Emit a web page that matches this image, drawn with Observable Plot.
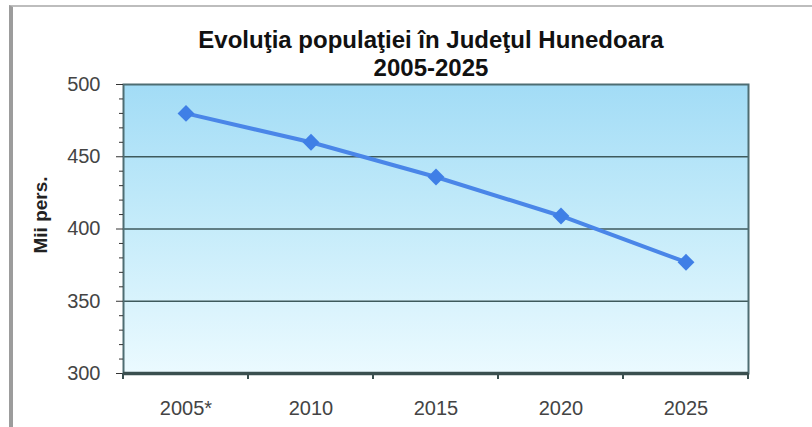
<!DOCTYPE html>
<html><head><meta charset="utf-8">
<script src="https://cdn.jsdelivr.net/npm/d3@7"></script>
<script src="https://cdn.jsdelivr.net/npm/@observablehq/plot@0.6"></script>
<style>
body{margin:0;background:#fff;}
#wrap{position:relative;width:812px;height:427px;overflow:hidden;background:#fff;}
#chart{position:absolute;left:0;top:0;}
#border{position:absolute;left:9px;top:5px;width:900px;height:500px;border-left:4px solid #9c9c9c;border-top:2px solid #bdbdbd;pointer-events:none;z-index:2;}
</style></head><body>
<div id="wrap"><div id="chart"></div><div id="border"></div></div>
<script>
const years = ["2005*", "2010", "2015", "2020", "2025"];
const population = [480, 460, 436, 409, 377];
const yTicks = [300, 350, 400, 450, 500];
const yMinorTicks = [310, 320, 330, 340, 360, 370, 380, 390, 410, 420, 430, 440, 460, 470, 480, 490];
const gridValues = [350, 400, 450];
const titleLines = ["Evoluţia populaţiei în Judeţul Hunedoara", "2005-2025"];
const yLabel = "Mii pers.";

const data = years.map((y, i) => ({year: y, value: population[i]}));
const NS = "http://www.w3.org/2000/svg";

const gradientBg = (index, scales, values, dims) => {
  const g = document.createElementNS(NS, "g");
  const w = dims.width - dims.marginLeft - dims.marginRight;
  const h = dims.height - dims.marginTop - dims.marginBottom;
  g.innerHTML = `<defs><linearGradient id="bgGrad" x1="0" y1="0" x2="0" y2="1">
    <stop offset="0" stop-color="#a2dcf6"/><stop offset="0.5" stop-color="#c6ecfa"/><stop offset="1" stop-color="#ebfaff"/></linearGradient></defs>
    <rect x="${dims.marginLeft}" y="${dims.marginTop}" width="${w}" height="${h}" fill="url(#bgGrad)"/>`;
  return g;
};

const xBoundaryTicks = (index, scales, values, dims) => {
  const g = document.createElementNS(NS, "g");
  const x = scales.x;
  const bw = typeof x.bandwidth === "function" ? x.bandwidth() : (x(years[1]) - x(years[0]));
  const y0 = dims.height - dims.marginBottom;
  const pos = [x(years[0])].concat(years.map(c => x(c) + bw));
  g.innerHTML = pos.map(p => `<line x1="${p}" x2="${p}" y1="${y0}" y2="${y0 + 6}" stroke="#3a4f4f" stroke-width="2"/>`).join("");
  return g;
};

const chart = Plot.plot({
  width: 812,
  height: 427,
  marginLeft: 123,
  marginRight: 64,
  marginTop: 84,
  marginBottom: 54,
  style: {fontFamily: "'Liberation Sans', Arial, sans-serif", fontSize: "20px", background: "transparent", overflow: "visible"},
  x: {type: "band", domain: years, padding: 0, label: null},
  y: {domain: [300, 500], label: null},
  marks: [
    gradientBg,
    Plot.ruleY(gridValues, {stroke: "#3e5a5c", strokeWidth: 1.6}),
    Plot.frame({stroke: "#4e6d72", strokeWidth: 2}),
    Plot.ruleY([300], {stroke: "#3a4f4f", strokeWidth: 3.5}),
    Plot.axisY(yTicks, {tickSize: 7, tickPadding: 16, stroke: "#333", fill: "#444", fontSize: 20, label: null}),
    Plot.axisY(yMinorTicks, {tickSize: 4, text: null, stroke: "#333", label: null}),
    Plot.axisX({tickSize: 0, tickPadding: 27, fill: "#444", fontSize: 20, label: null}),
    xBoundaryTicks,
    Plot.line(data, {x: "year", y: "value", stroke: "#4a86e8", strokeWidth: 4}),
    Plot.dot(data, {x: "year", y: "value", symbol: "diamond2", r: 7.6, fill: "#3f7fe6", stroke: "none"}),
    Plot.text([titleLines[0]], {text: d => d, frameAnchor: "top", dx: -5, dy: -44, fontSize: 24, fontWeight: "bold", fill: "#111", lineAnchor: "middle"}),
    Plot.text([titleLines[1]], {text: d => d, frameAnchor: "top", dx: -5, dy: -16, fontSize: 24, fontWeight: "bold", fill: "#111", lineAnchor: "middle"}),
    Plot.text([yLabel], {text: d => d, frameAnchor: "left", textAnchor: "middle", lineAnchor: "middle", rotate: -90, dx: -83, dy: -14, fontSize: 19, fontWeight: "bold", fill: "#222"})
  ]
});
document.getElementById("chart").appendChild(chart);
</script>
</body></html>
